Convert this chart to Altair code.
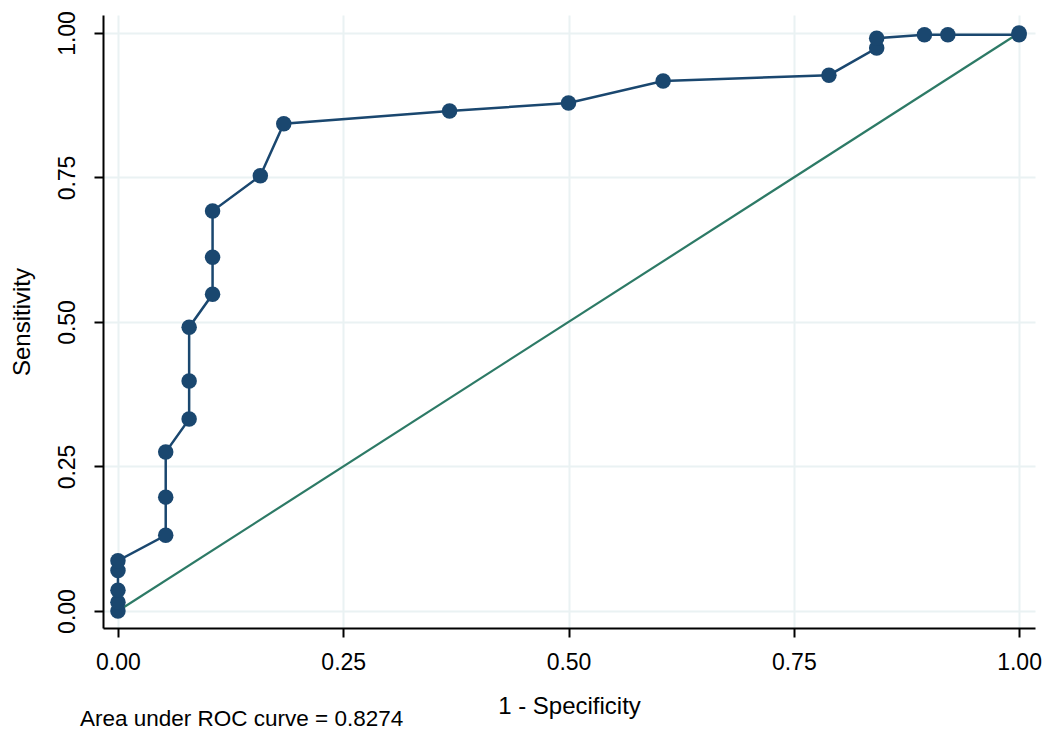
import altair as alt
import pandas as pd

# ROC curve points (1 - specificity, sensitivity), in plotting order
fpr = [0.0, 0.0, 0.0, 0.0, 0.0,
       0.053, 0.053, 0.053,
       0.079, 0.079, 0.079,
       0.105, 0.105, 0.105,
       0.158, 0.184, 0.368, 0.500, 0.605, 0.789,
       0.842, 0.842, 0.895, 0.921, 1.0, 1.0]
tpr = [0.0, 0.015, 0.036, 0.070, 0.087,
       0.131, 0.197, 0.275,
       0.332, 0.398, 0.491,
       0.548, 0.612, 0.692,
       0.753, 0.843, 0.865, 0.879, 0.917, 0.927,
       0.974, 0.991, 0.997, 0.997, 0.997, 1.0]
ref_x = [0.0, 1.0]
ref_y = [0.0, 1.0]
ticks = [0.0, 0.25, 0.5, 0.75, 1.0]
auc_label = "Area under ROC curve = 0.8274"

roc = pd.DataFrame({"fpr": fpr, "tpr": tpr, "order": list(range(len(fpr)))})
ref = pd.DataFrame({"fpr": ref_x, "tpr": ref_y})
note = pd.DataFrame({"label": [auc_label]})

FONT = "Liberation Sans"
NAVY = "#1a476f"
GREEN = "#2d7a66"
GRID = "#eaf2f3"

xscale = alt.Scale(domain=[-0.0166, 1.0177], nice=False, zero=False)
yscale = alt.Scale(domain=[-0.0294, 1.0311], nice=False, zero=False)

xaxis = alt.Axis(values=ticks, format=".2f", title="1 - Specificity",
                 grid=True, gridColor=GRID, gridWidth=2,
                 domainColor="black", domainWidth=2,
                 tickColor="black", tickWidth=2, tickSize=9,
                 labelFont=FONT, labelFontSize=23, labelColor="black", labelPadding=14,
                 titleFont=FONT, titleFontSize=24, titleFontWeight="normal",
                 titleColor="black", titlePadding=20)
yaxis = alt.Axis(values=ticks, format=".2f", title="Sensitivity",
                 grid=True, gridColor=GRID, gridWidth=2,
                 domainColor="black", domainWidth=2,
                 tickColor="black", tickWidth=2, tickSize=9,
                 labelFont=FONT, labelFontSize=23, labelColor="black",
                 labelAngle=-90, labelAlign="center", labelBaseline="bottom",
                 labelPadding=15,
                 titleFont=FONT, titleFontSize=24, titleFontWeight="normal",
                 titleColor="black", titlePadding=22)

ref_line = alt.Chart(ref).mark_line(color=GREEN, strokeWidth=2.2).encode(
    x=alt.X("fpr:Q", scale=xscale, axis=xaxis),
    y=alt.Y("tpr:Q", scale=yscale, axis=yaxis),
)

roc_line = alt.Chart(roc).mark_line(color=NAVY, strokeWidth=2.5).encode(
    x=alt.X("fpr:Q", scale=xscale),
    y=alt.Y("tpr:Q", scale=yscale),
    order="order:Q",
)

roc_pts = alt.Chart(roc).mark_circle(color=NAVY, opacity=1, size=240).encode(
    x=alt.X("fpr:Q", scale=xscale),
    y=alt.Y("tpr:Q", scale=yscale),
)

note_text = alt.Chart(note).mark_text(
    font=FONT, fontSize=22.5, color="black", align="left", baseline="middle"
).encode(
    x=alt.value(-23),
    y=alt.value(704),
    text="label:N",
)

chart = alt.layer(ref_line, roc_line, roc_pts, note_text).properties(
    width=932, height=613,
    autosize=alt.AutoSizeParams(type="none"),
    padding={"left": 95, "top": 7, "right": 7, "bottom": 104},
    background="white",
).configure_view(stroke=None)

chart.save("out.html", embed_options={"renderer": "svg", "actions": False})
